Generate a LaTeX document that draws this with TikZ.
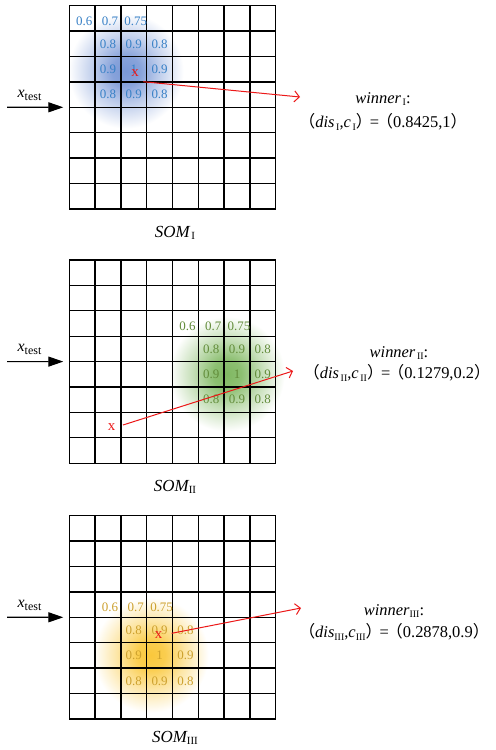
\documentclass[tikz,border=0pt]{standalone}
\usepackage{fontspec}
\setmainfont{Liberation Serif}
\newfontfamily\cjkfont{Noto Sans CJK SC}
\usetikzlibrary{arrows.meta}

% colours of the three maps
\definecolor{glowB}{RGB}{122,152,214}
\definecolor{textB}{RGB}{55,128,198}
\definecolor{glowG}{RGB}{128,184,98}
\definecolor{textG}{RGB}{98,140,58}
\definecolor{glowY}{RGB}{250,200,60}
\definecolor{textY}{RGB}{204,160,45}
\definecolor{markred}{RGB}{236,24,24}

% soft neighbourhood halos (25bp of the shading meets the circle's rim)
\pgfdeclareradialshading{haloB}{\pgfpoint{0bp}{0bp}}{color(0bp)=(glowB); color(5bp)=(glowB!90!white); color(12bp)=(glowB!45!white); color(20bp)=(white); color(50bp)=(white)}
\pgfdeclareradialshading{haloG}{\pgfpoint{0bp}{0bp}}{color(0bp)=(glowG); color(5bp)=(glowG!90!white); color(12bp)=(glowG!45!white); color(20bp)=(white); color(50bp)=(white)}
\pgfdeclareradialshading{haloY}{\pgfpoint{0bp}{0bp}}{color(0bp)=(glowY); color(5bp)=(glowY!90!white); color(12bp)=(glowY!45!white); color(20bp)=(white); color(50bp)=(white)}

% small upright roman subscript
\newcommand\romsub[2][10]{\raisebox{-0.35ex}{\fontsize{#1}{#1}\selectfont\upshape #2}}
% full-width punctuation
\newcommand\fwch[1]{{\cjkfont #1}}

% an 8x8 map: name, left, top
\newcommand\somgrid[3]{%
  \node[inner sep=0, outer sep=0, minimum width=206.4bp, minimum height=203.2bp, anchor=north west] (#1) at (#2,#3) {};
  \foreach \k in {0,...,8} {
    \draw[gridline] ({#2+\k*25.8},#3) -- ({#2+\k*25.8},{#3+203.2});
    \draw[gridline] (#2,{#3+\k*25.4}) -- ({#2+206.4},{#3+\k*25.4});
  }%
}
% neighbourhood values around the winning cell: name, left, top, column, row, colour
\newcommand\somvalues[6]{%
  \foreach \dc/\v [count=\i] in {-2/0.6, -1/0.7, 0/0.75}
    \node[numtxt, text=#6] (#1t\i) at ({#2+(#4+\dc+0.5)*25.8+2}, {#3+(#5-2+0.5)*25.4+2.5}) {\v};
  \foreach \dc/\dr/\v [count=\i] in {-1/-1/0.8, 0/-1/0.9, 1/-1/0.8, -1/0/0.9, 0/0/1, 1/0/0.9, -1/1/0.8, 0/1/0.9, 1/1/0.8}
    \node[numtxt, text=#6] (#1n\i) at ({#2+(#4+\dc+0.5)*25.8}, {#3+(#5+\dr+0.5)*25.4}) {\v};
}

\begin{document}
\begin{tikzpicture}[x=1bp, y=-1bp,
  gridline/.style={line width=1.3bp, black, line cap=rect},
  numtxt/.style={font=\fontsize{13}{13}\selectfont, inner sep=0},
  markx/.style={text=markred, font=\fontsize{15}{15}\selectfont, inner sep=0},
  redlink/.style={draw=markred, line width=1bp, -{Straight Barb[length=5bp, width=11bp, line width=1bp]}},
  inarrow/.style={line width=1.2bp, -{Triangle[length=15bp, width=10bp]}, shorten >=6bp},
  xlabel/.style={inner sep=0, font=\fontsize{16}{16}\selectfont},
  winlbl/.style={inner sep=0, font=\fontsize{16.5}{16.5}\selectfont},
  somlbl/.style={inner sep=0, font=\fontsize{17}{17}\selectfont\itshape}]

\useasboundingbox[fill=white] (0,0) rectangle (496,750);

% halos
\shade[shading=haloB] (126,71) circle (72bp);
\shade[shading=haloG] (227,374) circle (72bp);
\shade[shading=haloY] (151,655) circle (72bp);

% maps
\somgrid{g1}{69.3}{5.7}
\somgrid{g2}{69.3}{260}
\somgrid{g3}{69.3}{515.7}

\somvalues{a}{69.3}{5.7}{2}{2}{textB}
\somvalues{b}{69.3}{260}{6}{4}{textG}
\somvalues{c}{69.3}{515.7}{3}{5}{textY}

% input vectors
\foreach \g/\y in {1/107.3, 2/361.6, 3/617.3} {
  \coordinate (in\g) at (7,\y);
  \draw[inarrow] (in\g) -- (g\g.west);
  \node[xlabel] (xt\g) at (29.5,{\y-12}) {\textit{x}\romsub[12]{test}};
}

% map names
\node[somlbl] (l1) at (175,233) {SOM\romsub[11]{\,I}};
\node[somlbl] (l2) at (175,487) {SOM\romsub[11]{II}};
\node[somlbl] (l3) at (175,738) {SOM\romsub[11]{III}};

% winning neurons
\node[markx] (x1) at (135,73) {x};
\node[markx] (x2) at (111.5,427) {x};
\node[markx] (x3) at (158.5,635) {x};
\coordinate (s1) at (143.3,81.7);
\coordinate (s2) at (123,425);
\coordinate (s3) at (171.7,633.3);
\coordinate (t1) at (300,97);
\coordinate (t2) at (293,371);
\coordinate (t3) at (301,608);
\draw[redlink] (s1) -- (t1);
\draw[redlink] (s2) -- (t2);
\draw[redlink] (s3) -- (t3);

% results
\node[winlbl] (w1) at (383,99) {\textit{winner}\romsub{\,I}:};
\node[winlbl] (d1) at (383,122) {\fwch{（}\textit{dis}\romsub{\,I},\textit{c}\romsub{\,I}\fwch{）}\hspace{-0.15em}=\hspace{-0.15em}\fwch{（}0.8425,1\fwch{）}};
\node[winlbl] (w2) at (399,353) {\textit{winner}\romsub{\,II}:};
\node[winlbl] (d2) at (397,373) {\fwch{（}\textit{dis}\romsub{\,II},\textit{c}\romsub{\,II}\fwch{）}\hspace{-0.15em}=\hspace{-0.15em}\fwch{（}0.1279,0.2\fwch{）}};
\node[winlbl] (w3) at (394,611) {\textit{winner}\romsub{III}:};
\node[winlbl] (d3) at (394,632) {\fwch{（}\textit{dis}\romsub{III},\textit{c}\romsub{III}\fwch{）}\hspace{-0.15em}=\hspace{-0.15em}\fwch{（}0.2878,0.9\fwch{）}};
\end{tikzpicture}
\end{document}
